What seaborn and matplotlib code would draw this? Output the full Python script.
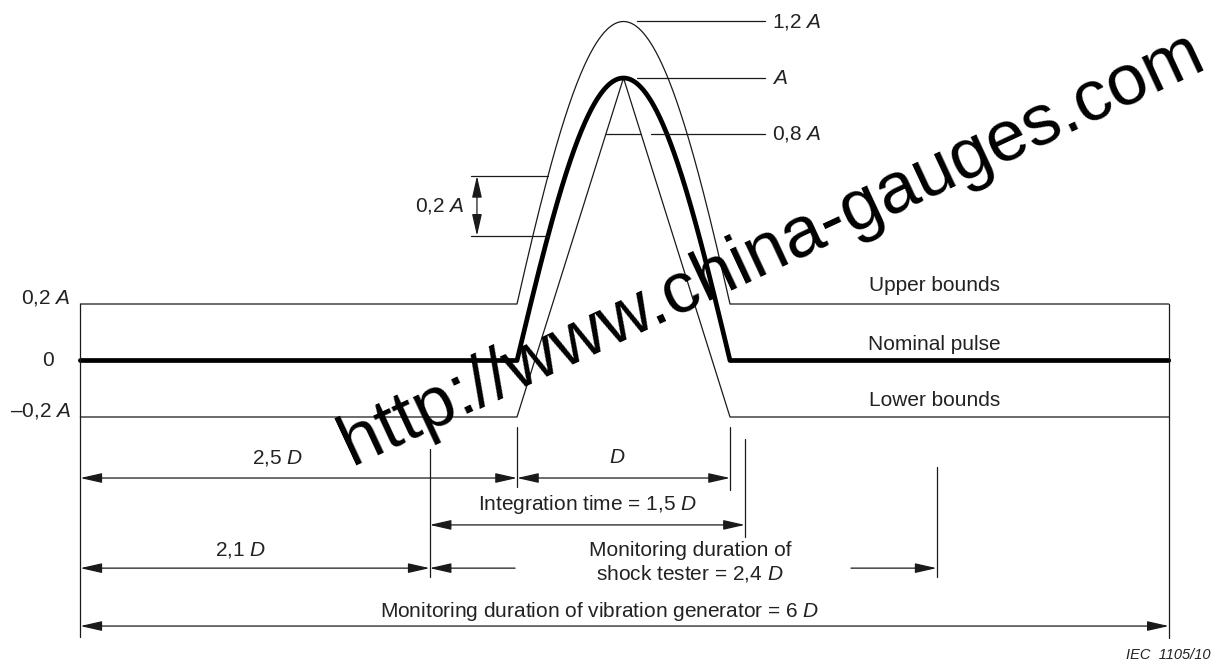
import numpy as np
import pandas as pd
import matplotlib.pyplot as plt
import seaborn as sns

sns.set_theme(style="white")
plt.rcParams['font.family'] = ['Liberation Sans', 'DejaVu Sans']
plt.rcParams['mathtext.fontset'] = 'custom'
plt.rcParams['mathtext.rm'] = 'Liberation Sans'
plt.rcParams['mathtext.it'] = 'Liberation Sans:italic'

# amplitude levels (units of A)
peak_levels = [1.2, 1.0, 0.8]
peak_labels = ['1,2 $A$', '$A$', '0,8 $A$']
band_levels = [0.2, 0.0, -0.2]
band_labels = ['0,2 $A$', '0', '\u20130,2 $A$']
curve_names = ['Upper bounds', 'Nominal pulse', 'Lower bounds']

# time marks as drawn (units of D, pulse from 0 to 1; sketch is not to scale)
t_start, t_end = -2.05, 3.06
t_pulse = [0.0, 1.0]
t_integ = [-0.41, 1.07]
t_shock_end = 1.97

dim_labels = ['2,5 $D$', '$D$', 'Integration time = 1,5 $D$', '2,1 $D$',
              'Monitoring duration of\nshock tester = 2,4 $D$',
              'Monitoring duration of vibration generator = 6 $D$']

# ---- curves
n = 400
x_pulse = np.linspace(t_pulse[0], t_pulse[1], n)
nominal = pd.DataFrame({
    'x': np.r_[t_start, x_pulse, t_end],
    'y': np.r_[0.0, np.sin(np.pi * x_pulse), 0.0]})

# upper bound: half sine of 1,2 A clipped at the 0,2 A band
w_up = 0.5 * np.pi / (np.pi / 2 - np.arcsin(band_levels[0] / peak_levels[0]))
x_up = np.linspace(t_pulse[0], t_pulse[1], n)
y_up = peak_levels[0] * np.sin(np.pi * (x_up - 0.5 + w_up / 2) / w_up)
upper = pd.DataFrame({'x': np.r_[t_start, x_up, t_end],
                      'y': np.r_[band_levels[0], y_up, band_levels[0]]})

lower = pd.DataFrame({'x': [t_start, t_pulse[0], 0.5, t_pulse[1], t_end],
                      'y': [band_levels[2], band_levels[2], peak_levels[1],
                            band_levels[2], band_levels[2]]})

fig = plt.figure(figsize=(12.19, 6.66), dpi=100)
ax = fig.add_axes([0, 0, 1, 1])
ax.set_xlim(-517 / 213, (1219 - 517) / 213)
ax.set_ylim((360.5 - 666) / 282.5, 360.5 / 282.5)
ax.axis('off')

thin = dict(color='#1a1a1a', lw=0.9)
sns.lineplot(data=upper, x='x', y='y', ax=ax, sort=False, estimator=None, **thin)
sns.lineplot(data=lower, x='x', y='y', ax=ax, sort=False, estimator=None, **thin)
sns.lineplot(data=nominal, x='x', y='y', ax=ax, sort=False, estimator=None,
             color='black', lw=3.4)

fs = 15

# peak leader lines
for lv, lab in zip(peak_levels, peak_labels):
    if lv == 0.8:
        xl = 0.5 * (lv - band_levels[2]) / (peak_levels[1] - band_levels[2])
        ax.plot([xl, 1 - xl], [lv, lv], **thin)
        ax.plot([0.629, 1.164], [lv, lv], **thin)
    else:
        ax.plot([0.563, 1.164], [lv, lv], **thin)
    ax.text(1.197, lv, lab, fontsize=fs, va='center', ha='left', color='#222')

# band labels on the left
ax.text(-2.094, band_levels[0], band_labels[0], fontsize=fs, ha='right', va='baseline', color='#222')
ax.text(-2.20, band_levels[1], band_labels[1], fontsize=fs, ha='center', va='center', color='#222')
ax.text(-2.094, band_levels[2], band_labels[2], fontsize=fs, ha='right', va='baseline', color='#222')

# curve names on the right
for yy, lab in zip([0.267, 0.055, -0.14], curve_names):
    ax.text(1.96, yy, lab, fontsize=fs, ha='center', va='center', color='#222')


def arrow(x0, y0, x1, y1, style='<|-|>'):
    ax.annotate('', xy=(x1, y1), xytext=(x0, y0),
                arrowprops=dict(arrowstyle=style + ',head_length=1.1,head_width=0.25',
                                color='#1a1a1a', lw=0.9, shrinkA=0, shrinkB=0))


# 0,2 A dimension between upper bound and nominal
x0 = 0.1455
yu = peak_levels[0] * np.sin(np.pi * (x0 - 0.5 + w_up / 2) / w_up)
yn = np.sin(np.pi * x0)
ax.plot([-0.216, x0], [yu, yu], **thin)
ax.plot([-0.216, x0], [yn, yn], **thin)
arrow(-0.188, yn, -0.188, yu)
ax.text(-0.244, (yu + yn) / 2, '0,2 $A$', fontsize=fs, ha='right', va='center', color='#222')

# extension lines
ext = [(t_start, 0.2, -0.979), (t_end, 0.2, -0.983),
       (t_pulse[0], -0.235, -0.448), (t_pulse[1], -0.235, -0.458),
       (t_integ[0], -0.313, -0.766), (t_integ[1], -0.278, -0.625),
       (t_shock_end, -0.377, -0.766)]
for xx, ya, yb in ext:
    ax.plot([xx, xx], [ya, yb], **thin)

rows = [-0.416, -0.582, -0.735, -0.940]
off = 0.071

arrow(t_start, rows[0], t_pulse[0], rows[0])
ax.text(-1.126, rows[0] + off, dim_labels[0], fontsize=fs, ha='center', va='center', color='#222')
arrow(t_pulse[0], rows[0], t_pulse[1], rows[0])
ax.text(0.469, rows[0] + off, dim_labels[1], fontsize=fs, ha='center', va='center', color='#222')

arrow(t_integ[0], rows[1], t_integ[1], rows[1])
ax.text(0.33, rows[1] + off, dim_labels[2], fontsize=fs, ha='center', va='center', color='#222')

arrow(t_start, rows[2], t_integ[0], rows[2])
ax.text(-1.296, rows[2] + 0.065, dim_labels[3], fontsize=fs, ha='center', va='center', color='#222')
arrow(-0.009, rows[2], t_integ[0], rows[2], style='-|>')
arrow(1.568, rows[2], t_shock_end, rows[2], style='-|>')
ax.text(0.812, rows[2] + 0.02, dim_labels[4], fontsize=fs, ha='center', va='center',
        linespacing=1.15, color='#222')

arrow(t_start, rows[3], t_end, rows[3])
ax.text(0.390, rows[3] + 0.05, dim_labels[5], fontsize=fs, ha='center', va='center', color='#222')

ax.text(3.254, -1.042, 'IEC  1105/10', fontsize=10.5, style='italic', ha='right',
        va='center', color='#222')

# watermark
ax.text((352 - 517) / 213, (360.5 - 465) / 282.5, 'http://www.china-gauges.com',
        fontsize=52, color='black', rotation=25.0, rotation_mode='anchor',
        ha='left', va='baseline')

fig.savefig('out.png', dpi=100)
